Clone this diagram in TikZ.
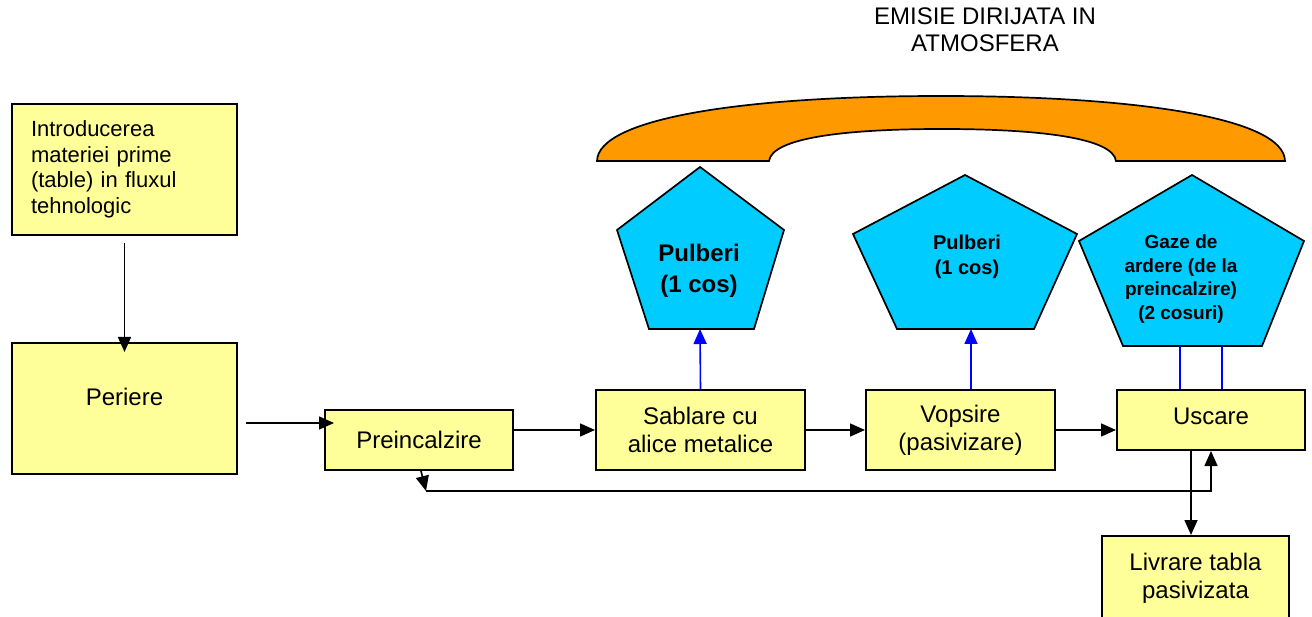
\documentclass[tikz,border=0pt]{standalone}
\usepackage{fontspec}
\setmainfont{Liberation Sans}
\usetikzlibrary{arrows.meta}
\definecolor{stageyellow}{HTML}{FFFF99}
\definecolor{ventcyan}{HTML}{00CCFF}
\definecolor{airorange}{HTML}{FF9900}

\begin{document}
\begin{tikzpicture}[x=1pt, y=-1pt,
    >={Triangle[length=15pt,width=13pt]},
    stage/.style={draw, line width=2pt, fill=stageyellow, align=center,
        inner sep=0pt, font=\fontsize{24}{28}\selectfont},
    emission/.style={draw, line width=1.7pt, fill=ventcyan},
    flow/.style={->, line width=1.6pt},
    vent/.style={blue, line width=1.6pt}]
    \useasboundingbox (0,0) rectangle (1312,617);

    % Title above the collector
    \node[align=center, font=\fontsize{24}{27}\selectfont] (title) at (985,30) {EMISIE DIRIJATA IN\\ATMOSFERA};

    % Draw the orange collector
    \filldraw[fill=airorange, line width=1.7pt] (597,161) .. controls (598,118) and (745,96) .. (941,96)
        .. controls (1137,96) and (1284,118) .. (1285,161) -- (1116,161)
        .. controls (1113,138) and (1040,129) .. (942,129)
        .. controls (844,129) and (772,138) .. (769,161) -- cycle;

    % Draw the emission pentagons
    \filldraw[emission] (700,167) -- (784,230) -- (754,329) -- (649,329) -- (617,230) -- cycle;
    \filldraw[emission] (965,175) -- (1077,234) -- (1034,329) -- (897,329) -- (853,234) -- cycle;
    \filldraw[emission] (1192,175) -- (1304,241) -- (1262,346) -- (1123,346) -- (1079,241) -- cycle;
    \node[align=center, font=\bfseries\fontsize{24}{31}\selectfont] (dust1) at (699,271) {Pulberi\\(1 cos)};
    \node[align=center, font=\bfseries\fontsize{20}{25}\selectfont] (dust2) at (967,257) {Pulberi\\(1 cos)};
    \node[align=center, font=\bfseries\fontsize{19}{23.5}\selectfont] (fumes) at (1181,279) {Gaze de\\ardere (de la\\preincalzire)\\(2 cosuri)};
    \coordinate (dust1base) at (700,329);
    \coordinate (dust2base) at (971,329);
    \coordinate (fumesL) at (1180,346);
    \coordinate (fumesR) at (1222,346);

    % Process stages
    \node[stage, minimum width=225, minimum height=131, text width=187, align=left, inner xsep=19pt,
        font=\fontsize{22}{25.5}\selectfont] (intro) at (124.5,169.5) {Introducerea\\materiei prime\\(table) in fluxul\\tehnologic};
    \node[stage, minimum width=225, minimum height=131,
        label={[yshift=11.5pt, font=\fontsize{24}{28}\selectfont]center:Periere}] (periere) at (124.5,408.5) {};
    \node[stage, minimum width=188, minimum height=60] (preheat) at (419,440) {Preincalzire};
    \node[stage, minimum width=209, minimum height=80] (sablare) at (700.5,430) {Sablare cu\\alice metalice};
    \node[stage, minimum width=189, minimum height=80] (vopsire) at (960.5,430) {Vopsire\\(pasivizare)};
    \node[stage, minimum width=188, minimum height=60,
        label={[yshift=4pt, font=\fontsize{24}{28}\selectfont]center:Uscare}] (uscare) at (1211,420) {};
    \node[stage, minimum width=187, minimum height=84] (livrare) at (1195.5,578) {Livrare tabla\\pasivizata};

    % Main flow
    \draw[flow, shorten <=7pt, shorten >=-10pt] (intro.south) -- (periere.north);
    \coordinate (brushout) at ([yshift=-14.5pt]periere.east);
    \draw[flow, shorten <=8pt, shorten >=-10pt] (brushout) -- (brushout -| preheat.west);
    \draw[flow] (preheat.east |- sablare.west) -- (sablare.west);
    \draw[flow] (sablare) -- (vopsire);
    \draw[flow] (vopsire.east) -- (vopsire.east -| uscare.west);
    \coordinate (dryout) at ([xshift=-20pt]uscare.south);
    \draw[flow] (dryout) -- (dryout |- livrare.north);

    % Return line under the stages
    \coordinate (backL) at ([xshift=7pt, yshift=-20pt]preheat.south);
    \coordinate (backR) at (backL -| uscare.south);
    \draw[flow] ([xshift=2pt]preheat.south) -- (backL);
    \draw[flow] (backL) -- (backR) -- (uscare.south);

    % Vents to the emission points
    \draw[vent, ->] (sablare.north) -- (dust1base);
    \draw[vent, ->] (vopsire.north -| dust2base) -- (dust2base);
    \draw[vent] (fumesL) -- (fumesL |- uscare.north);
    \draw[vent] (fumesR) -- (fumesR |- uscare.north);
\end{tikzpicture}
\end{document}
